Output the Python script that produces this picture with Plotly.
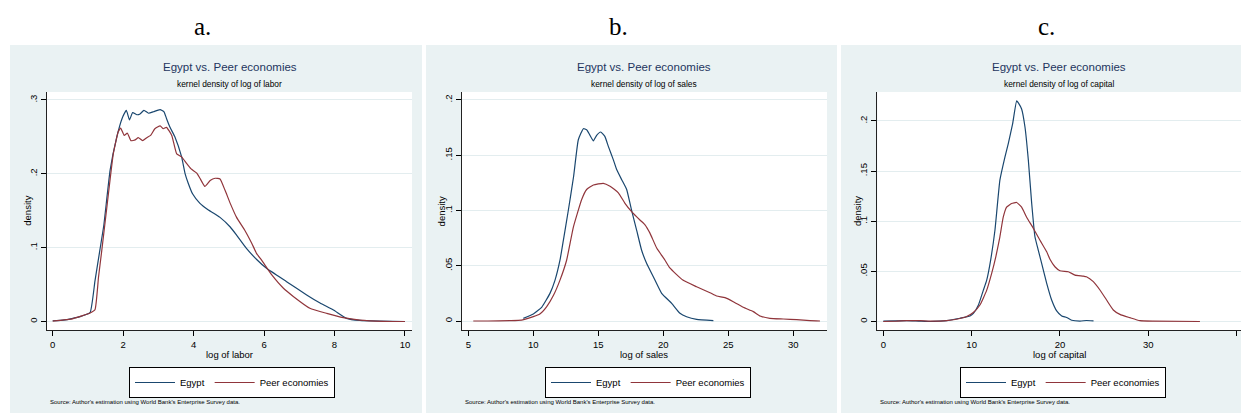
import plotly.graph_objects as go

W, H = 1241, 415

# ---------------- data ----------------
labor_egypt_x = [0.0, 0.3, 0.54, 0.8, 1.06, 1.2, 1.34, 1.45, 1.63, 1.82, 1.97, 2.09, 2.18, 2.27, 2.39, 2.48,
                 2.59, 2.72, 2.86, 2.97, 3.05, 3.16, 3.23, 3.33, 3.47, 3.66, 3.76, 3.85, 3.97, 4.18, 4.42,
                 4.56, 4.75, 5.04, 5.22, 5.5, 5.79, 6.07, 6.64, 7.21, 7.59, 7.97, 8.34, 8.72, 9.29, 10.0]
labor_egypt_y = [0.001, 0.002, 0.004, 0.007, 0.012, 0.055, 0.097, 0.13, 0.205, 0.25, 0.275, 0.286, 0.273,
                 0.283, 0.28, 0.281, 0.286, 0.282, 0.284, 0.286, 0.287, 0.284, 0.275, 0.263, 0.25, 0.223,
                 0.20, 0.187, 0.173, 0.16, 0.151, 0.147, 0.141, 0.128, 0.117, 0.099, 0.084, 0.072, 0.054,
                 0.036, 0.025, 0.0155, 0.0043, 0.0014, 0.0005, 0.0]
labor_peer_x = [0.0, 0.58, 1.06, 1.2, 1.3, 1.39, 1.55, 1.72, 1.86, 1.93, 2.03, 2.12, 2.22, 2.34, 2.43, 2.55,
                2.67, 2.78, 2.9, 3.05, 3.14, 3.23, 3.38, 3.52, 3.66, 3.8, 3.92, 4.09, 4.18, 4.32, 4.47, 4.61,
                4.75, 4.89, 5.04, 5.22, 5.46, 5.65, 5.79, 5.93, 6.22, 6.55, 6.83, 7.3, 7.78, 8.25, 8.72,
                9.38, 10.0]
labor_peer_y = [0.0005, 0.004, 0.0115, 0.016, 0.06, 0.095, 0.16, 0.227, 0.257, 0.262, 0.252, 0.255, 0.245,
                0.246, 0.249, 0.245, 0.249, 0.252, 0.261, 0.265, 0.261, 0.263, 0.252, 0.227, 0.223, 0.214,
                0.207, 0.201, 0.194, 0.183, 0.191, 0.194, 0.193, 0.178, 0.16, 0.141, 0.123, 0.106, 0.092,
                0.083, 0.063, 0.045, 0.034, 0.018, 0.011, 0.0052, 0.002, 0.0003, 0.0]

sales_egypt_x = [9.23, 10.0, 10.64, 11.28, 11.67, 12.05, 12.31, 12.69, 13.1, 13.46, 13.85, 14.1, 14.36, 14.62,
                 14.87, 15.18, 15.5, 15.77, 16.15, 16.41, 16.79, 17.18, 17.56, 17.95, 18.33, 18.72, 19.23,
                 19.87, 20.64, 21.28, 21.79, 22.56, 23.85]
sales_egypt_y = [0.0024, 0.0063, 0.0124, 0.025, 0.037, 0.055, 0.073, 0.10, 0.131, 0.164, 0.174, 0.173, 0.168,
                 0.163, 0.168, 0.171, 0.167, 0.158, 0.146, 0.137, 0.128, 0.119, 0.10, 0.082, 0.064, 0.052,
                 0.040, 0.025, 0.016, 0.007, 0.0039, 0.0015, 0.0003]
sales_peer_x = [5.38, 6.5, 8.2, 9.1, 10.0, 10.5, 11.03, 11.54, 12.05, 12.56, 13.08, 13.72, 14.1, 14.62, 15.38,
                15.9, 16.54, 17.05, 17.56, 18.2, 18.59, 18.97, 19.49, 20.13, 20.5, 21.5, 22.56, 23.59, 24.1,
                24.74, 25.38, 26.15, 26.92, 27.44, 28.2, 29.23, 30.26, 31.28, 32.05]
sales_peer_y = [0.0, 0.0, 0.0003, 0.0008, 0.0039, 0.0063, 0.013, 0.023, 0.037, 0.055, 0.085, 0.11, 0.119,
                0.123, 0.1246, 0.122, 0.116, 0.1065, 0.099, 0.0914, 0.087, 0.0795, 0.066, 0.055, 0.048,
                0.037, 0.031, 0.0256, 0.0226, 0.0211, 0.0175, 0.0124, 0.0085, 0.0045, 0.0024, 0.0018,
                0.0012, 0.0003, 0.0]

capital_egypt_x = [0.0, 1.5, 2.66, 4.0, 5.3, 6.3, 7.18, 8.68, 9.82, 10.2, 10.77, 11.32, 11.7, 12.15, 12.64,
                   13.2, 13.77, 14.15, 14.64, 15.1, 15.36, 15.66, 16.04, 16.42, 16.8, 17.17, 17.55, 17.93,
                   18.5, 19.06, 19.63, 20.2, 20.76, 21.33, 22.27, 23.0, 23.8]
capital_egypt_y = [0.0003, 0.0006, 0.0008, 0.0004, 0.0, 0.0003, 0.0008, 0.0032, 0.0055, 0.008, 0.0164, 0.031,
                   0.041, 0.061, 0.091, 0.141, 0.164, 0.1775, 0.197, 0.22, 0.217, 0.212, 0.194, 0.161, 0.118,
                   0.0845, 0.071, 0.058, 0.038, 0.0214, 0.0105, 0.0055, 0.004, 0.0012, 0.0004, 0.001, 0.0006]
capital_peer_x = [0.0, 1.5, 2.64, 4.15, 5.28, 7.17, 8.3, 9.43, 10.19, 10.94, 11.7, 12.27, 12.75, 13.2, 13.58,
                  13.96, 14.53, 15.1, 15.66, 16.23, 16.98, 17.74, 18.5, 18.87, 19.43, 20.0, 20.94, 21.7,
                  22.64, 23.0, 23.78, 24.53, 25.28, 26.04, 26.79, 27.92, 29.05, 30.56, 35.85]
capital_peer_y = [0.0, 0.0003, 0.0008, 0.0008, 0.0003, 0.0008, 0.0022, 0.0049, 0.0089, 0.0164, 0.031, 0.048,
                  0.065, 0.0845, 0.104, 0.114, 0.1177, 0.1187, 0.114, 0.104, 0.093, 0.081, 0.0695, 0.062,
                  0.0546, 0.0506, 0.0496, 0.0463, 0.0453, 0.0446, 0.0397, 0.0314, 0.0214, 0.0115, 0.0071,
                  0.0038, 0.0008, 0.0003, 0.0]

series_names = ["Egypt", "Peer economies"]
panel_letters = ["a.", "b.", "c."]
panel_titles = ["Egypt vs. Peer economies"] * 3
panel_subtitles = ["kernel density of log of labor", "kernel density of log of sales",
                   "kernel density of log of capital"]
x_titles = ["log of labor", "log of sales", "log of capital"]
y_title = "density"
source_note = "Source: Author's estimation using World Bank's Enterprise Survey data."

x_tickvals = [[0, 2, 4, 6, 8, 10], [5, 10, 15, 20, 25, 30], [0, 10, 20, 30, 40]]
y_tickvals = [[0, 0.1, 0.2, 0.3], [0, 0.05, 0.1, 0.15, 0.2], [0, 0.05, 0.1, 0.15, 0.2]]
y_ticktext = [["0", ".1", ".2", ".3"], ["0", ".05", ".1", ".15", ".2"], ["0", ".05", ".1", ".15", ".2"]]

# ---------------- styling / layout ----------------
C_EGYPT = "#1A476F"
C_PEER = "#90353B"
PANEL_BG = "#EAF2F3"
GRID = "#E3EDEF"
TITLE_C = "#1E3560"
FONT = "Liberation Sans, Arial, sans-serif"

# pixel geometry of each panel
panels = [
    dict(bg=(10, 422), plot=(47, 412), xr=[-0.162, 10.2], yr=[-0.0115, 0.3108],
         leg=(129, 367), letter=203),
    dict(bg=(426, 837), plot=(461.7, 827), xr=[4.49, 32.59], yr=[-0.00814, 0.2072],
         leg=(545, 367), letter=618),
    dict(bg=(841, 1241), plot=(877.3, 1241), xr=[-0.68, 40.5], yr=[-0.0085, 0.2289],
         leg=(960, 367), letter=1046),
]
BG_TOP, BG_BOT = 45, 413
PLOT_TOP, PLOT_BOT = 92, 330


def px(x):
    return x / W


def py(y):
    return 1 - y / H


data = [
    (labor_egypt_x, labor_egypt_y, labor_peer_x, labor_peer_y),
    (sales_egypt_x, sales_egypt_y, sales_peer_x, sales_peer_y),
    (capital_egypt_x, capital_egypt_y, capital_peer_x, capital_peer_y),
]

fig = go.Figure()
shapes = []
annotations = []
layout_axes = {}

for i, (p, d) in enumerate(zip(panels, data)):
    n = "" if i == 0 else str(i + 1)
    leg = "legend" if i == 0 else f"legend{i + 1}"
    ex, ey, qx, qy = d
    fig.add_trace(go.Scatter(x=ex, y=ey, mode="lines", name=series_names[0],
                             line=dict(color=C_EGYPT, width=1.2, shape="spline", smoothing=0.4),
                             xaxis="x" + n, yaxis="y" + n, legend=leg, showlegend=True))
    fig.add_trace(go.Scatter(x=qx, y=qy, mode="lines", name=series_names[1],
                             line=dict(color=C_PEER, width=1.2, shape="spline", smoothing=0.4),
                             xaxis="x" + n, yaxis="y" + n, legend=leg, showlegend=True))

    layout_axes["xaxis" + n] = dict(
        domain=[px(p["plot"][0]), px(p["plot"][1])], range=p["xr"], anchor="y" + n,
        tickvals=x_tickvals[i], ticks="outside", ticklen=5, tickcolor="#000", tickwidth=1,
        showline=True, linecolor="#222", linewidth=1.2, showgrid=False, zeroline=False,
        tickfont=dict(family=FONT, size=9.5, color="#000"), fixedrange=True)
    layout_axes["yaxis" + n] = dict(
        domain=[py(PLOT_BOT), py(PLOT_TOP)], range=p["yr"], anchor="x" + n,
        tickvals=y_tickvals[i], ticktext=y_ticktext[i], tickangle=-90,
        ticks="outside", ticklen=5, tickcolor="#000", tickwidth=1,
        showline=True, linecolor="#222", linewidth=1.2, showgrid=True, gridcolor=GRID,
        gridwidth=1, zeroline=False, tickfont=dict(family=FONT, size=9.5, color="#000"),
        fixedrange=True)

    # panel background and white plot region
    shapes.append(dict(type="rect", xref="paper", yref="paper", layer="below",
                       x0=px(p["bg"][0]), x1=px(p["bg"][1]), y0=py(BG_BOT), y1=py(BG_TOP),
                       fillcolor=PANEL_BG, line=dict(width=0)))
    shapes.append(dict(type="rect", xref="paper", yref="paper", layer="below",
                       x0=px(p["plot"][0]), x1=px(p["plot"][1]), y0=py(PLOT_BOT), y1=py(PLOT_TOP),
                       fillcolor="white", line=dict(width=0)))

    cx = (p["plot"][0] + p["plot"][1]) / 2
    annotations += [
        dict(text=panel_letters[i], x=px(p["letter"]), y=py(26), xref="paper", yref="paper",
             showarrow=False, xanchor="center", yanchor="middle",
             font=dict(family="Liberation Serif, Times New Roman, serif", size=25, color="#000")),
        dict(text=panel_titles[i], x=px(cx), y=py(67), xref="paper", yref="paper",
             showarrow=False, xanchor="center", yanchor="middle",
             font=dict(family=FONT, size=11.5, color=TITLE_C)),
        dict(text=panel_subtitles[i], x=px(cx), y=py(84), xref="paper", yref="paper",
             showarrow=False, xanchor="center", yanchor="middle",
             font=dict(family=FONT, size=8.4, color="#000")),
        dict(text=x_titles[i], x=px(cx), y=py(354), xref="paper", yref="paper",
             showarrow=False, xanchor="center", yanchor="middle",
             font=dict(family=FONT, size=9.5, color="#000")),
        dict(text=y_title, x=px(p["plot"][0] - 20.3), y=py((PLOT_TOP + PLOT_BOT) / 2),
             xref="paper", yref="paper", showarrow=False, xanchor="center", yanchor="middle",
             textangle=-90, font=dict(family=FONT, size=9.5, color="#000")),
        dict(text=source_note, x=px(p["plot"][0] + 1), y=py(402), xref="paper", yref="paper",
             showarrow=False, xanchor="left", yanchor="middle",
             font=dict(family=FONT, size=6, color="#000")),
    ]

legend_common = dict(orientation="h", xanchor="left", yanchor="top", bgcolor="white",
                     bordercolor="#000", borderwidth=1, itemwidth=40,
                     font=dict(family=FONT, size=9.5, color="#000"), itemclick=False,
                     itemdoubleclick=False)
for i, p in enumerate(panels):
    key = "legend" if i == 0 else f"legend{i + 1}"
    layout_axes[key] = dict(legend_common, x=px(p["leg"][0]), y=py(p["leg"][1]))

fig.update_layout(
    width=W, height=H, margin=dict(l=0, r=0, t=0, b=0),
    paper_bgcolor="white", plot_bgcolor="white",
    shapes=shapes, annotations=annotations, showlegend=True,
    **layout_axes,
)

fig.write_html("out.html", config={"displayModeBar": False},
               post_script="document.body.style.margin='0';document.body.style.overflow='hidden';")
